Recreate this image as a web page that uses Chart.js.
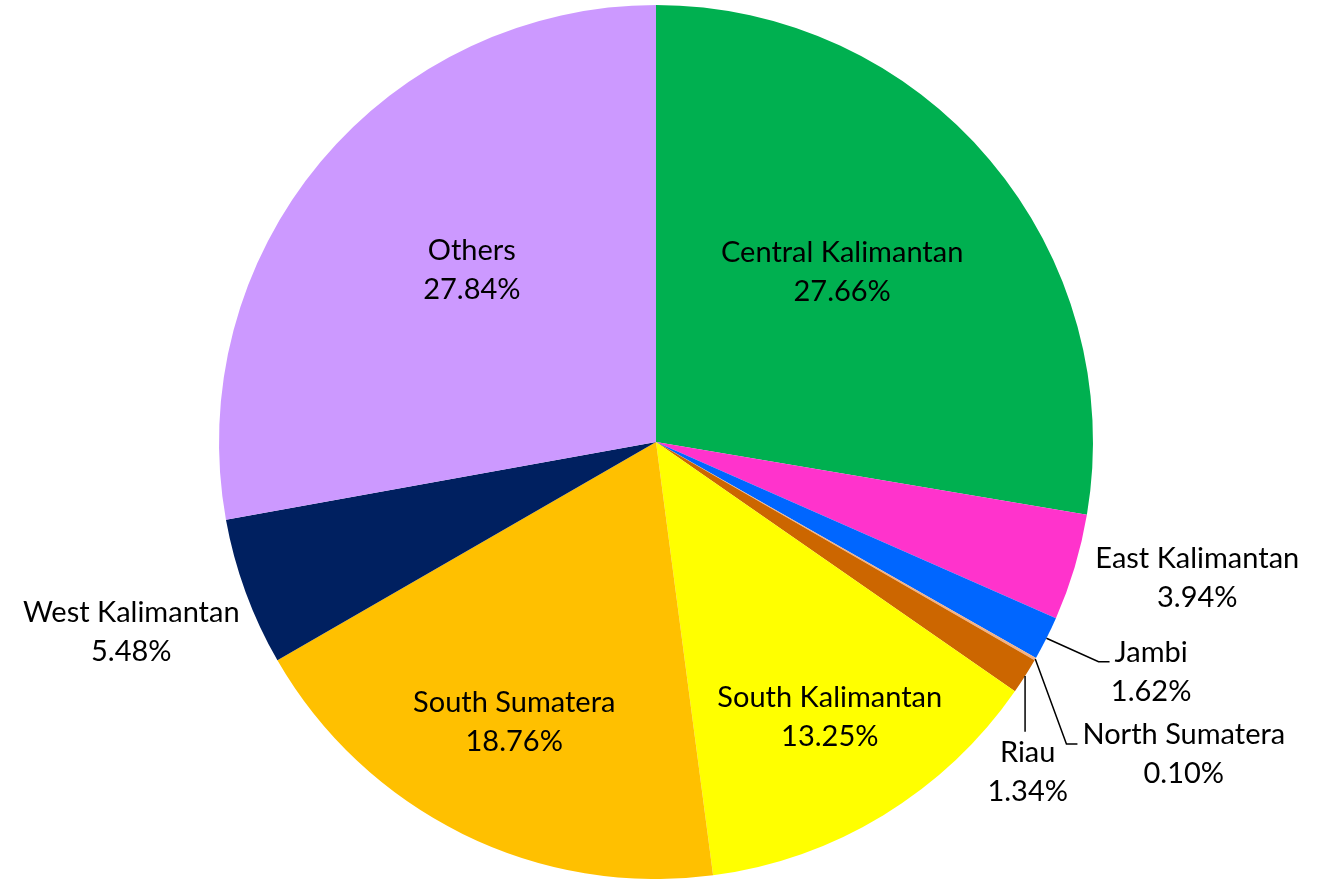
<!DOCTYPE html>
<html>
<head>
<meta charset="utf-8">
<script src="https://cdn.jsdelivr.net/npm/chart.js@4/dist/chart.umd.min.js"></script>
<style>
  html, body { margin: 0; padding: 0; background: #fff; overflow: hidden; }
</style>
</head>
<body>
<canvas id="pie" width="1326" height="879"></canvas>
<script>
const provinces = [
  "Central Kalimantan", "East Kalimantan", "Jambi", "North Sumatera", "Riau",
  "South Kalimantan", "South Sumatera", "West Kalimantan", "Others"
];
const shares = [27.66, 3.94, 1.62, 0.10, 1.34, 13.25, 18.76, 5.48, 27.84];
const sliceColors = [
  "#00B050", "#FF33CC", "#0066FF", "#F4B183", "#CC6600",
  "#FFFF00", "#FFC000", "#002060", "#CC99FF"
];

// where each label sits: fraction of radius, angle tweak (deg), leader style
const labelSpots = [
  { k: 0.577, da: -2.2 },
  { k: 1.277, da: -2.6 },
  { k: 1.249, da: -1.8, leader: "side" },
  { k: 1.403, da: 0.8, leader: "side" },
  { k: 1.137, da: 9.2, leader: "top" },
  { k: 0.745, da: -0.9 },
  { k: 0.718, da: 0.6 },
  { k: 1.277, da: 0.2 },
  { k: 0.577, da: 3.2 }
];

const FONT = "29px Lato";
const LINE_GAP = 39;

const pieLabels = {
  id: "pieLabels",
  afterDatasetsDraw: (chart) => {
    const ctx = chart.ctx;
    const meta = chart.getDatasetMeta(0);
    ctx.save();
    ctx.font = FONT;
    ctx.fillStyle = "#000";
    ctx.strokeStyle = "#000";
    ctx.lineWidth = 1.5;
    ctx.textAlign = "center";
    ctx.textBaseline = "middle";
    meta.data.forEach((arc, i) => {
      const p = arc.getProps(["x", "y", "startAngle", "endAngle", "outerRadius"], true);
      const spot = labelSpots[i];
      const mid = (p.startAngle + p.endAngle) / 2;
      const a = mid + spot.da * Math.PI / 180;
      const cx = p.x + Math.cos(a) * p.outerRadius * spot.k;
      const cy = p.y + Math.sin(a) * p.outerRadius * spot.k;
      const line1 = provinces[i];
      const line2 = shares[i].toFixed(2) + "%";
      ctx.fillText(line1, cx, cy - LINE_GAP / 2);
      ctx.fillText(line2, cx, cy + LINE_GAP / 2);

      if (spot.leader) {
        const sx = p.x + Math.cos(mid) * p.outerRadius;
        const sy = p.y + Math.sin(mid) * p.outerRadius;
        ctx.beginPath();
        ctx.moveTo(sx, sy);
        if (spot.leader === "side") {
          const w = ctx.measureText(line1).width;
          const ex = cx - w / 2 - 5;
          const ey = cy - 10;
          ctx.lineTo(ex - 11, ey);
          ctx.lineTo(ex, ey);
        } else {
          ctx.lineTo(sx, cy - 40);
        }
        ctx.stroke();
      }
    });
    ctx.restore();
  }
};

new Chart(document.getElementById("pie").getContext("2d"), {
  type: "pie",
  data: {
    labels: provinces,
    datasets: [{
      data: shares,
      backgroundColor: sliceColors,
      borderWidth: 0
    }]
  },
  plugins: [pieLabels],
  options: {
    responsive: false,
    animation: false,
    devicePixelRatio: 1,
    layout: { padding: { left: 0, right: 14, top: 5, bottom: 0 } },
    plugins: {
      legend: { display: false },
      tooltip: { enabled: false }
    }
  }
});
</script>
</body>
</html>
